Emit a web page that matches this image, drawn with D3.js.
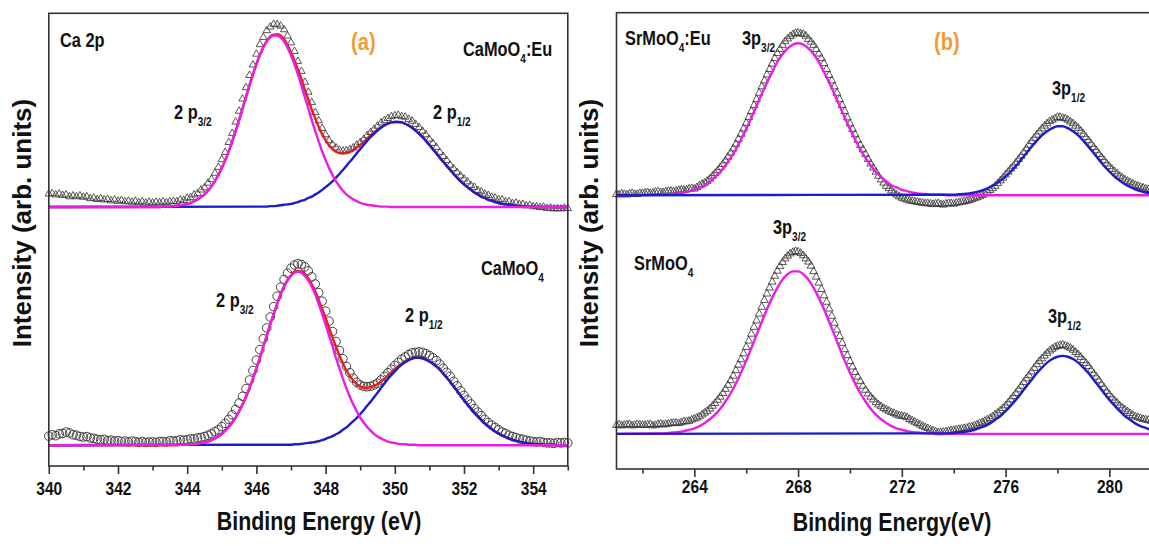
<!DOCTYPE html>
<html>
<head>
<meta charset="utf-8">
<script src="https://cdn.jsdelivr.net/npm/d3@7"></script>
<style>
html, body { margin: 0; padding: 0; background: #fff; overflow: hidden; }
svg { display: block; }
</style>
</head>
<body>
<script>
// ---------- data: panel (a) Ca 2p, grid 340 -> 355 eV, step 0.1 ----------
const caGridStart = 340, caGridStep = 0.1;

// CaMoO4:Eu measured (triangles)
const caEuData = [
  60.1, 60.2, 59.9, 60.1, 59.8, 59.9, 59.5, 59.7, 59.5, 59.7,
  59.4, 59.5, 59.1, 59.2, 58.9, 59.1, 58.8, 58.9, 58.6, 58.8,
  58.5, 58.7, 58.4, 58.5, 58.3, 58.5, 58.2, 58.4, 58.1, 58.3,
  58.1, 58.3, 58.2, 58.4, 58.2, 58.4, 58.5, 58.4, 58.8, 58.7,
  59.2, 59.3, 59.9, 60.2, 61.0, 61.5, 62.5, 63.3, 64.7, 66.0,
  67.7, 69.3, 71.5, 73.5, 76.0, 78.4, 81.1, 83.6, 86.3, 88.6,
  91.0, 93.1, 94.7, 96.2, 97.0, 97.6, 97.5, 97.2, 96.4, 95.0,
  93.5, 91.6, 89.4, 87.2, 84.8, 82.6, 80.3, 78.1, 76.3, 74.6,
  73.2, 71.9, 71.0, 70.3, 69.8, 69.6, 69.7, 69.9, 70.3, 70.9,
  71.5, 72.2, 73.0, 73.7, 74.4, 75.1, 75.8, 76.3, 76.8, 77.2,
  77.4, 77.5, 77.2, 77.1, 76.6, 76.2, 75.5, 74.8, 74.0, 73.2,
  72.2, 71.3, 70.4, 69.3, 68.4, 67.5, 66.5, 65.7, 64.9, 64.1,
  63.4, 62.8, 62.0, 61.6, 60.9, 60.6, 60.1, 59.8, 59.4, 59.2,
  58.9, 58.8, 58.4, 58.4, 58.0, 58.1, 57.8, 57.8, 57.5, 57.6,
  57.3, 57.3, 57.1, 57.2, 56.9, 57.0, 56.8, 56.9, 56.8, 57.0,
  56.9
];
const caEuBase = 57.2;
// fitted components (height above base), windows on a 0.1 eV grid
const caEuP32Start = 343.0;
const caEuP32 = [
  0, 0, 0, 0.1, 0.1, 0.1, 0.2, 0.3, 0.4, 0.5,
  0.7, 0.9, 1.3, 1.7, 2.2, 2.8, 3.6, 4.6, 5.7, 7.1,
  8.6, 10.4, 12.3, 14.5, 16.8, 19.2, 21.8, 24.3, 26.9, 29.3,
  31.5, 33.5, 35.2, 36.6, 37.5, 37.9, 37.9, 37.5, 36.6, 35.2,
  33.5, 31.5, 29.3, 26.9, 24.3, 21.8, 19.2, 16.8, 14.5, 12.3,
  10.4, 8.6, 7.1, 5.7, 4.6, 3.6, 2.8, 2.2, 1.7, 1.3,
  0.9, 0.7, 0.5, 0.4, 0.3, 0.2, 0.1, 0.1, 0.1, 0
];
const caEuP12Start = 346.0;
const caEuP12 = [
  0.1, 0.1, 0.1, 0.1, 0.2, 0.2, 0.3, 0.4, 0.5, 0.6,
  0.7, 0.9, 1.1, 1.4, 1.6, 2.0, 2.3, 2.8, 3.2, 3.8,
  4.4, 5.0, 5.7, 6.5, 7.3, 8.2, 9.1, 10.0, 10.9, 11.9,
  12.8, 13.7, 14.6, 15.5, 16.2, 16.9, 17.5, 18.0, 18.4, 18.7,
  18.8, 18.8, 18.7, 18.4, 18.0, 17.5, 16.9, 16.2, 15.5, 14.6,
  13.7, 12.8, 11.9, 10.9, 10.0, 9.1, 8.2, 7.3, 6.5, 5.7,
  5.0, 4.4, 3.8, 3.2, 2.8, 2.3, 2.0, 1.6, 1.4, 1.1,
  0.9, 0.7, 0.6, 0.5, 0.4, 0.3, 0.2, 0.2, 0.1, 0.1,
  0.1, 0.1, 0
];

// CaMoO4 measured (circles)
const caData = [
  6.6, 6.9, 6.7, 7.1, 7.2, 7.5, 7.3, 6.9, 6.8, 6.5,
  6.4, 6.5, 6.2, 6.1, 5.9, 5.8, 5.9, 5.6, 5.7, 5.5,
  5.6, 5.4, 5.5, 5.3, 5.5, 5.4, 5.2, 5.4, 5.2, 5.3,
  5.3, 5.2, 5.4, 5.4, 5.3, 5.6, 5.5, 5.6, 5.8, 5.7,
  5.8, 6.0, 6.0, 6.2, 6.3, 6.5, 6.8, 7.1, 7.6, 8.0,
  8.7, 9.4, 10.3, 11.3, 12.5, 13.9, 15.4, 17.1, 19.0, 21.1,
  23.4, 25.7, 28.1, 30.5, 32.9, 35.2, 37.5, 39.5, 41.2, 42.6,
  43.7, 44.4, 44.7, 44.5, 44.0, 43.1, 41.8, 40.2, 38.3, 36.4,
  34.2, 32.0, 29.7, 27.5, 25.5, 23.7, 22.0, 20.6, 19.4, 18.5,
  17.9, 17.6, 17.5, 17.6, 17.9, 18.3, 19.0, 19.8, 20.6, 21.4,
  22.2, 22.9, 23.6, 24.1, 24.6, 25.0, 25.1, 25.2, 25.1, 24.8,
  24.4, 23.9, 23.3, 22.5, 21.6, 20.7, 19.8, 18.7, 17.7, 16.6,
  15.6, 14.6, 13.7, 12.7, 11.9, 11.1, 10.3, 9.6, 9.0, 8.5,
  8.0, 7.5, 7.2, 6.8, 6.5, 6.3, 6.0, 5.9, 5.7, 5.5,
  5.4, 5.3, 5.4, 5.2, 5.1, 5.1, 5.0, 5.2, 5.1, 5.2,
  5.1
];
const caBase = 4.6;
const caP32Start = 343.8;
const caP32 = [
  0.1, 0.1,
  0.1, 0.2, 0.2, 0.3, 0.5, 0.6, 0.8, 1.1, 1.5, 1.9,
  2.5, 3.2, 4.0, 5.0, 6.1, 7.5, 9.0, 10.7, 12.6, 14.7,
  17.0, 19.3, 21.8, 24.2, 26.7, 29.0, 31.2, 33.3, 35.0, 36.4,
  37.4, 38.1, 38.3, 38.1, 37.4, 36.4, 35.0, 33.3, 31.2, 29.0,
  26.7, 24.2, 21.8, 19.3, 17.0, 14.7, 12.6, 10.7, 9.0, 7.5,
  6.1, 5.0, 4.0, 3.2, 2.5, 1.9, 1.5, 1.1, 0.8, 0.6,
  0.5, 0.3, 0.2, 0.2, 0.1, 0.1, 0.1, 0
];
const caP12Start = 346.7;
const caP12 = [
  0.1, 0.1, 0.1,
  0.1, 0.2, 0.2, 0.3, 0.4, 0.5, 0.6, 0.7, 0.9, 1.1,
  1.4, 1.7, 2.0, 2.4, 2.8, 3.4, 3.9, 4.6, 5.3, 6.0,
  6.9, 7.7, 8.7, 9.6, 10.6, 11.6, 12.6, 13.6, 14.6, 15.5,
  16.3, 17.1, 17.8, 18.3, 18.8, 19.1, 19.3, 19.3, 19.2, 18.9,
  18.5, 18.0, 17.4, 16.7, 15.8, 14.9, 14.0, 13.0, 12.0, 11.0,
  10.0, 9.0, 8.1, 7.2, 6.4, 5.6, 4.8, 4.2, 3.6, 3.0,
  2.6, 2.2, 1.8, 1.5, 1.2, 1.0, 0.8, 0.6, 0.5, 0.4,
  0.3, 0.2, 0.2, 0.1, 0.1, 0.1, 0.1, 0
];

// ---------- data: panel (b) Sr 3p, measured grid 261 -> 283 eV step 0.1, fits step 0.2 ----------
const srGridStart = 261, srGridStep = 0.1, srFitStep = 0.2;

const srEuData = [
  60.2, 60.1, 60.3, 60.2, 60.1, 60.3, 60.4, 60.2, 60.2, 60.4,
  60.4, 60.5, 60.6, 60.4, 60.5, 60.7, 60.8, 60.6, 60.6, 60.8,
  60.9, 60.9, 60.8, 60.9, 61.1, 61.2, 61.1, 61.2, 61.4, 61.5,
  61.4, 61.7, 62.1, 62.4, 62.7, 63.1, 63.6, 64.2, 64.8, 65.4,
  66.1, 66.8, 67.6, 68.4, 69.3, 70.2, 71.2, 72.3, 73.4, 74.6,
  75.8, 77.1, 78.4, 79.7, 81.0, 82.4, 83.8, 85.1, 86.4, 87.6,
  88.8, 90.0, 91.1, 92.0, 92.9, 93.7, 94.3, 94.8, 95.2, 95.5,
  95.6, 95.4, 95.3, 94.9, 94.2, 93.6, 92.9, 92.0, 91.0, 90.0,
  88.9, 87.6, 86.3, 85.1, 83.8, 82.4, 81.0, 79.7, 78.4, 77.0,
  75.7, 74.5, 73.3, 72.1, 71.0, 70.0, 69.0, 67.9, 66.9, 66.0,
  65.1, 64.2, 63.4, 62.7, 62.0, 61.5, 61.0, 60.5, 60.1, 59.7,
  59.4, 59.2, 59.0, 58.8, 58.7, 58.6, 58.5, 58.4, 58.3, 58.2,
  58.2, 58.1, 58.0, 58.1, 58.2, 58.0, 57.9, 58.1, 58.2, 58.2,
  58.1, 58.3, 58.4, 58.5, 58.6, 58.7, 58.9, 59.1, 59.3, 59.5,
  59.7, 60.0, 60.3, 60.7, 61.1, 61.5, 62.0, 62.6, 63.2, 63.8,
  64.5, 65.1, 65.8, 66.4, 67.1, 67.9, 68.6, 69.4, 70.2, 71.0,
  71.8, 72.5, 73.2, 73.9, 74.6, 75.2, 75.7, 76.2, 76.5, 76.8,
  77.1, 77.1, 76.9, 76.8, 76.5, 76.1, 75.7, 75.2, 74.7, 74.1,
  73.4, 72.7, 72.0, 71.2, 70.5, 69.8, 69.0, 68.3, 67.6, 66.9,
  66.3, 65.7, 65.2, 64.7, 64.2, 63.8, 63.4, 63.1, 62.8, 62.5,
  62.2, 62.0, 61.8, 61.6, 61.4, 61.3, 61.2, 61.0, 60.9, 60.9,
  60.8, 60.7, 60.6, 60.6, 60.5, 60.5, 60.5, 60.4, 60.4, 60.3,
  60.3
];
const srEuBase = 60.0;
const srEuP32Start = 262.4;
const srEuP32 = [
  0.1, 0.1, 0.1,
  0.2, 0.3, 0.4, 0.6, 0.9, 1.2, 1.7, 2.2, 3.0, 4.0,
  5.1, 6.5, 8.2, 10.0, 12.2, 14.5, 17.0, 19.6, 22.2, 24.7,
  27.0, 29.2, 30.9, 32.2, 33.0, 33.3, 33.0, 32.2, 30.9, 29.2,
  27.0, 24.7, 22.2, 19.6, 17.0, 14.5, 12.2, 10.0, 8.2, 6.5,
  5.1, 4.0, 3.0, 2.2, 1.7, 1.2, 0.9, 0.6, 0.4, 0.3,
  0.2, 0.1, 0.1, 0.1, 0
];
const srEuP12Start = 273.8;
const srEuP12 = [
  0.1, 0.1, 0.2, 0.3, 0.4, 0.6,
  0.9, 1.3, 1.8, 2.4, 3.2, 4.1, 5.2, 6.4, 7.8, 9.2,
  10.6, 11.9, 13.1, 14.0, 14.7, 15.1, 15.1, 14.7, 14.0, 13.1,
  11.9, 10.6, 9.2, 7.8, 6.4, 5.2, 4.1, 3.2, 2.4, 1.8,
  1.3, 0.9, 0.6, 0.4, 0.3, 0.2, 0.1, 0.1, 0
];

const srData = [
  9.6, 9.7, 9.5, 9.6, 9.7, 9.8, 9.5, 9.6, 9.8, 9.7,
  9.6, 9.6, 9.7, 9.8, 9.5, 9.6, 9.8, 9.9, 9.7, 9.8,
  9.9, 10.0, 10.1, 10.1, 10.0, 10.2, 10.4, 10.4, 10.5, 10.8,
  11.0, 11.2, 11.5, 11.9, 12.3, 12.7, 13.2, 13.8, 14.4, 15.1,
  15.8, 16.6, 17.5, 18.4, 19.4, 20.4, 21.6, 22.8, 24.0, 25.3,
  26.7, 28.1, 29.6, 31.1, 32.5, 34.0, 35.5, 37.0, 38.4, 39.7,
  41.0, 42.3, 43.4, 44.4, 45.3, 46.1, 46.7, 47.2, 47.5, 47.7,
  47.6, 47.3, 46.8, 46.1, 45.4, 44.5, 43.3, 42.1, 40.8, 39.4,
  38.0, 36.6, 35.1, 33.5, 32.0, 30.5, 29.1, 27.6, 26.2, 24.9,
  23.6, 22.4, 21.2, 20.2, 19.2, 18.2, 17.3, 16.5, 15.8, 15.2,
  14.6, 14.1, 13.7, 13.3, 13.0, 12.7, 12.4, 12.2, 11.9, 11.7,
  11.6, 11.5, 11.3, 10.9, 10.6, 10.3, 10.0, 9.7, 9.4, 9.1,
  8.9, 8.6, 8.4, 8.2, 8.0, 8.0, 8.1, 8.2, 8.3, 8.4,
  8.5, 8.6, 8.7, 8.8, 8.9, 9.0, 9.2, 9.3, 9.5, 9.7,
  10.0, 10.2, 10.5, 10.8, 11.1, 11.5, 11.9, 12.3, 12.8, 13.3,
  13.9, 14.5, 15.2, 15.9, 16.6, 17.4, 18.2, 19.0, 19.8, 20.5,
  21.3, 22.1, 22.9, 23.6, 24.2, 24.8, 25.4, 25.9, 26.3, 26.7,
  26.9, 27.1, 27.2, 27.0, 26.8, 26.5, 26.1, 25.6, 25.1, 24.5,
  23.8, 23.2, 22.5, 21.7, 20.9, 20.2, 19.4, 18.6, 17.8, 17.0,
  16.3, 15.6, 15.0, 14.5, 13.9, 13.4, 13.0, 12.6, 12.2, 11.8,
  11.5, 11.3, 11.1, 10.9, 10.8, 10.7, 10.5, 10.3, 10.2, 10.1,
  10.0, 9.9, 9.8, 9.8, 9.7, 9.6, 9.5, 9.5, 9.4, 9.4,
  9.4
];
const srBase = 7.7;
const srP32Start = 262.6;
const srP32 = [
  0.1, 0.1,
  0.2, 0.3, 0.4, 0.6, 0.9, 1.2, 1.7, 2.4, 3.2, 4.2,
  5.5, 7.1, 8.9, 11.0, 13.4, 16.0, 18.8, 21.7, 24.5, 27.3,
  29.8, 32.0, 33.8, 35.0, 35.6, 35.6, 35.0, 33.8, 32.0, 29.8,
  27.3, 24.5, 21.7, 18.8, 16.0, 13.4, 11.0, 8.9, 7.1, 5.5,
  4.2, 3.2, 2.4, 1.7, 1.2, 0.9, 0.6, 0.4, 0.3, 0.2,
  0.1, 0.1, 0
];
const srP12Start = 273.4;
const srP12 = [
  0.1, 0.1, 0.1, 0.2, 0.3, 0.4, 0.6, 0.9,
  1.3, 1.7, 2.3, 3.1, 3.9, 5.0, 6.2, 7.5, 8.9, 10.4,
  11.8, 13.3, 14.5, 15.6, 16.4, 16.9, 17.1, 16.9, 16.4, 15.6,
  14.5, 13.3, 11.8, 10.4, 8.9, 7.5, 6.2, 5.0, 3.9, 3.1,
  2.3, 1.7, 1.3, 0.9, 0.6, 0.4, 0.3, 0.2, 0.1, 0.1,
  0.1
];

// axis ticks
const caTicks = [340, 342, 344, 346, 348, 350, 352, 354];
const caMinorTicks = [341, 343, 345, 347, 349, 351, 353, 355];
const srTicks = [264, 268, 272, 276, 280];
const srMinorTicks = [262, 266, 270, 274, 278, 282];

// ---------- drawing ----------
// Arial-like bold squeezed horizontally, to stand in for a narrow bold face
const font = "'Liberation Sans',Arial,Helvetica,sans-serif";
const squeeze = 0.84;
const magenta = "#e91ee6", blue = "#1c1cc8", red = "#e3201e", orange = "#f29a30";
const markerColor = "#383838";

const svg = d3.select("body").append("svg")
    .attr("width", 1149)
    .attr("height", 546);
svg.append("rect").attr("width", 1149).attr("height", 546).attr("fill", "#fff");

function toPoints(start, step, values) {
    return values.map((v, i) => ({ e: start + i * step, v: v }));
}

// value of a fit window at energy e (0 outside)
function windowValue(start, step, values, e) {
    const j = Math.round((e - start) / step);
    return (j >= 0 && j < values.length) ? values[j] : 0;
}

// condensed bold text; (x, y) is the anchor point on the baseline
function narrowText(x, y, size, anchor, color) {
    return svg.append("g")
        .attr("transform", `translate(${x},${y}) scale(${squeeze},1)`)
        .append("text")
        .attr("text-anchor", anchor)
        .attr("fill", color || "#111")
        .style("font-family", font)
        .style("font-weight", "bold")
        .style("font-size", size + "px");
}

function drawPanel(cfg) {
    const x = d3.scaleLinear().domain(cfg.domain).range([cfg.left, cfg.right]);
    const y = d3.scaleLinear().domain([0, 100]).range([cfg.bottom, cfg.top]);
    const g = svg.append("g");

    const line = d3.line()
        .x(d => x(d.e))
        .y(d => y(d.v))
        .curve(d3.curveMonotoneX);

    cfg.spectra.forEach(s => {
        const pts = toPoints(cfg.gridStart, cfg.gridStep, s.data);

        // measured points
        if (s.marker === "circle") {
            g.append("g").selectAll("circle")
                .data(pts)
                .join("circle")
                .attr("cx", d => x(d.e))
                .attr("cy", d => y(d.v))
                .attr("r", 4.3)
                .attr("fill", "none")
                .attr("stroke", markerColor)
                .attr("stroke-width", 0.95);
        } else {
            const tri = d3.symbol().type(d3.symbolTriangle).size(s.markerSize || 24);
            g.append("g").selectAll("path")
                .data(pts)
                .join("path")
                .attr("transform", d => `translate(${x(d.e)},${y(d.v)})`)
                .attr("d", tri)
                .attr("fill", "none")
                .attr("stroke", markerColor)
                .attr("stroke-width", 0.85);
        }

        // envelope (sum of components) on the fit grid
        if (s.envelope) {
            const n = Math.round((cfg.domain[1] - cfg.domain[0]) / cfg.fitStep);
            const env = d3.range(n + 1).map(i => {
                const e = cfg.domain[0] + i * cfg.fitStep;
                return {
                    e: e,
                    v: s.base + s.fits.reduce((acc, f) => acc + windowValue(f.start, cfg.fitStep, f.values, e), 0)
                };
            });
            g.append("path")
                .datum(env)
                .attr("d", line)
                .attr("fill", "none")
                .attr("stroke", red)
                .attr("stroke-width", 2.4);
        }

        // fitted components, flat at the base outside their window
        s.fits.forEach(f => {
            const fp = [{ e: cfg.domain[0], v: s.base }]
                .concat(toPoints(f.start, cfg.fitStep, f.values).map(p => ({ e: p.e, v: s.base + p.v })))
                .concat([{ e: cfg.domain[1], v: s.base }]);
            g.append("path")
                .datum(fp)
                .attr("d", line)
                .attr("fill", "none")
                .attr("stroke", f.color)
                .attr("stroke-width", 2.4);
        });
    });

    // frame
    g.append("rect")
        .attr("x", cfg.left)
        .attr("y", cfg.top)
        .attr("width", cfg.right - cfg.left)
        .attr("height", cfg.bottom - cfg.top)
        .attr("fill", "none")
        .attr("stroke", "#333")
        .attr("stroke-width", 1.6);

    // bottom axis: major ticks with labels, minor ticks without
    const major = g.append("g")
        .attr("transform", `translate(0,${cfg.bottom})`)
        .call(d3.axisBottom(x).tickValues(cfg.ticks).tickSize(8).tickPadding(cfg.labelPad).tickFormat(d3.format("d")));
    const minor = g.append("g")
        .attr("transform", `translate(0,${cfg.bottom})`)
        .call(d3.axisBottom(x).tickValues(cfg.minorTicks).tickSize(4.5).tickFormat(""));
    [major, minor].forEach(a => {
        a.select(".domain").remove();
        a.selectAll(".tick line").attr("stroke", "#333").attr("stroke-width", 1.6);
    });
    major.selectAll(".tick text")
        .attr("fill", "#111")
        .attr("transform", `scale(${squeeze},1)`)
        .style("font-family", font)
        .style("font-weight", "bold")
        .style("font-size", "18.5px");

    // axis titles
    narrowText(cfg.xTitleX, cfg.xTitleY, 25.5, "middle").text(cfg.xTitle);

    svg.append("text")
        .attr("transform", `translate(${cfg.yTitleX},223) rotate(-90)`)
        .attr("text-anchor", "middle")
        .attr("fill", "#111")
        .style("font-family", font)
        .style("font-weight", "bold")
        .style("font-size", "26px")
        .text("Intensity (arb. units)");
}

drawPanel({
    domain: [340, 355], left: 48.8, right: 567.8, top: 13.3, bottom: 466,
    gridStart: caGridStart, gridStep: caGridStep, fitStep: caGridStep,
    ticks: caTicks, minorTicks: caMinorTicks, labelPad: 8,
    xTitle: "Binding Energy (eV)", xTitleX: 319, xTitleY: 530, yTitleX: 31,
    spectra: [
        { data: caEuData, base: caEuBase, marker: "triangle", markerSize: 24, envelope: true,
          fits: [ { start: caEuP12Start, values: caEuP12, color: blue },
                  { start: caEuP32Start, values: caEuP32, color: magenta } ] },
        { data: caData, base: caBase, marker: "circle", envelope: true,
          fits: [ { start: caP12Start, values: caP12, color: blue },
                  { start: caP32Start, values: caP32, color: magenta } ] }
    ]
});

drawPanel({
    domain: [261, 284], left: 616.5, right: 1213.1, top: 12.7, bottom: 469,
    gridStart: srGridStart, gridStep: srGridStep, fitStep: srFitStep,
    ticks: srTicks, minorTicks: srMinorTicks, labelPad: 3,
    xTitle: "Binding Energy(eV)", xTitleX: 892, xTitleY: 531, yTitleX: 598,
    spectra: [
        { data: srEuData, base: srEuBase, marker: "triangle", markerSize: 26, envelope: false,
          fits: [ { start: srEuP32Start, values: srEuP32, color: magenta },
                  { start: srEuP12Start, values: srEuP12, color: blue } ] },
        { data: srData, base: srBase, marker: "triangle", markerSize: 26, envelope: false,
          fits: [ { start: srP32Start, values: srP32, color: magenta },
                  { start: srP12Start, values: srP12, color: blue } ] }
    ]
});

// annotations with subscripts
function annotate(x, y, parts, size, color) {
    const t = narrowText(x, y, size, "start", color);
    let down = false;
    parts.forEach(p => {
        const sub = Array.isArray(p);
        const s = t.append("tspan").text(sub ? p[0] : p);
        if (sub && !down) { s.attr("dy", 7).style("font-size", "12px"); down = true; }
        else if (sub) { s.style("font-size", "12px"); }
        else if (down) { s.attr("dy", -7); down = false; }
    });
}

annotate(60, 47, ["Ca 2p"], 19.5);
annotate(351, 50, ["(a)"], 24, orange);
annotate(463, 56, ["CaMoO", ["4"], ":Eu"], 19.5);
annotate(174, 119, ["2 p", ["3/2"]], 19.5);
annotate(433, 119, ["2 p", ["1/2"]], 19.5);
annotate(481, 275, ["CaMoO", ["4"]], 19.5);
annotate(216, 307, ["2 p", ["3/2"]], 19.5);
annotate(405, 322, ["2 p", ["1/2"]], 19.5);

annotate(625, 45, ["SrMoO", ["4"], ":Eu"], 19.5);
annotate(742, 45, ["3p", ["3/2"]], 19.5);
annotate(934, 50, ["(b)"], 24, orange);
annotate(1052, 95, ["3p", ["1/2"]], 19.5);
annotate(773, 234, ["3p", ["3/2"]], 19.5);
annotate(634, 270, ["SrMoO", ["4"]], 19.5);
annotate(1048, 323, ["3p", ["1/2"]], 19.5);
</script>
</body>
</html>
